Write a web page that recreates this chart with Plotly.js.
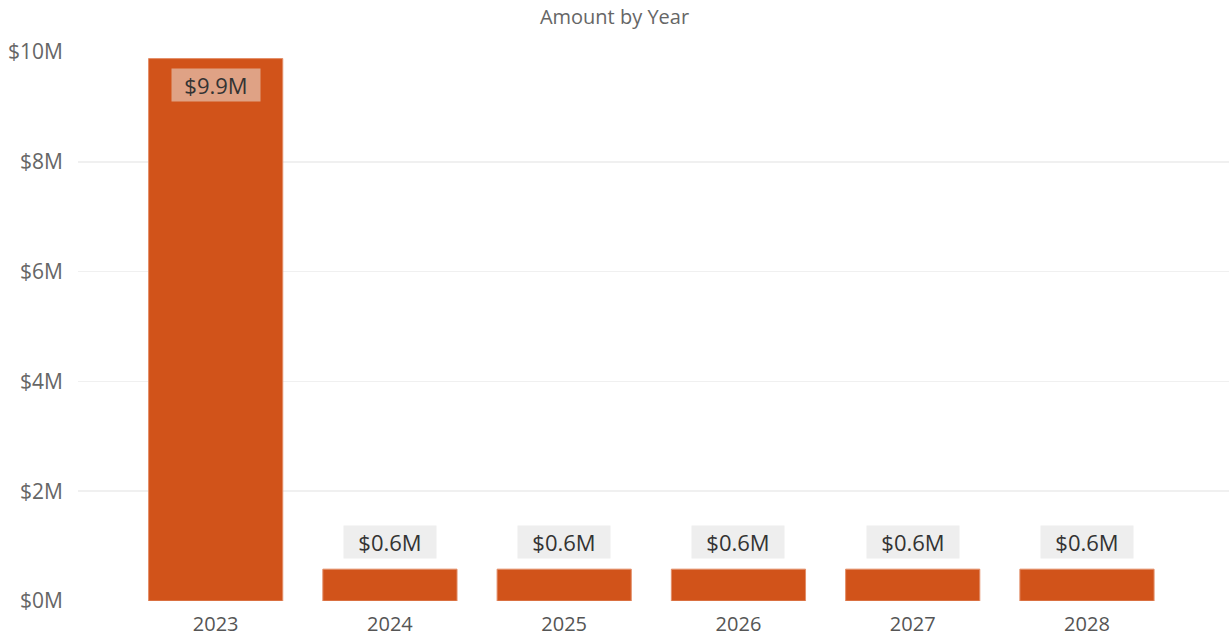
<!DOCTYPE html>
<html>
<head>
<meta charset="utf-8">
<script src="https://cdn.plot.ly/plotly-3.0.1.min.js"></script>
<style>html,body{margin:0;padding:0;background:#fff;}#chart{width:1229px;height:637px;}</style>
</head>
<body>
<div id="chart"></div>
<script>
const years = ["2023", "2024", "2025", "2026", "2027", "2028"];
const amounts = [9880000, 580000, 580000, 580000, 580000, 580000];
const labels = ["$9.9M", "$0.6M", "$0.6M", "$0.6M", "$0.6M", "$0.6M"];
const yTickVals = [0, 2000000, 4000000, 6000000, 8000000, 10000000];
const yTickText = ["$0M", "$2M", "$4M", "$6M", "$8M", "$10M"];

const font = "'Open Sans', 'Noto Sans', sans-serif";

const annotations = years.map((y, i) => {
  const inside = amounts[i] > 5000000;
  return {
    x: i, y: amounts[i], xref: 'x', yref: 'y',
    text: labels[i], showarrow: false,
    xanchor: 'center', yanchor: 'middle', yshift: inside ? -26 : 27,
    font: {family: font, size: 22, color: '#333333'},
    bgcolor: inside ? 'rgba(232,215,205,0.6)' : '#eeeeee',
    borderpad: 4, width: (inside ? 80 : 84), height: 24
  };
});

const trace = {
  type: 'bar', x: years, y: amounts, width: 0.77,
  marker: {color: '#D1531A', line: {color: '#E38E68', width: 1}},
  hoverinfo: 'none'
};

const layout = {
  width: 1229, height: 637,
  margin: {l: 78, r: 0, t: 52, b: 36},
  paper_bgcolor: '#ffffff', plot_bgcolor: '#ffffff',
  title: {text: 'Amount by Year', font: {family: font, size: 20, color: '#666666'}, x: 0.5, xanchor: 'center', y: 0.974, yref: 'container', yanchor: 'middle'},
  showlegend: false,
  xaxis: {type: 'category', range: [-0.79, 5.815], showgrid: false, zeroline: false, showline: false, ticks: '',
    tickfont: {family: font, size: 20, color: '#555555'}, ticklabelstandoff: 9},
  yaxis: {range: [0, 10000000], tickvals: yTickVals, ticktext: yTickText, showgrid: true, gridcolor: '#f0f0f0', gridwidth: 1.5,
    zeroline: false, showline: false, ticks: '', tickfont: {family: font, size: 21, color: '#666666'}, ticklabelstandoff: 14},
  annotations: annotations
};

Plotly.newPlot('chart', [trace], layout, {displayModeBar: false, staticPlot: true});
</script>
</body>
</html>
